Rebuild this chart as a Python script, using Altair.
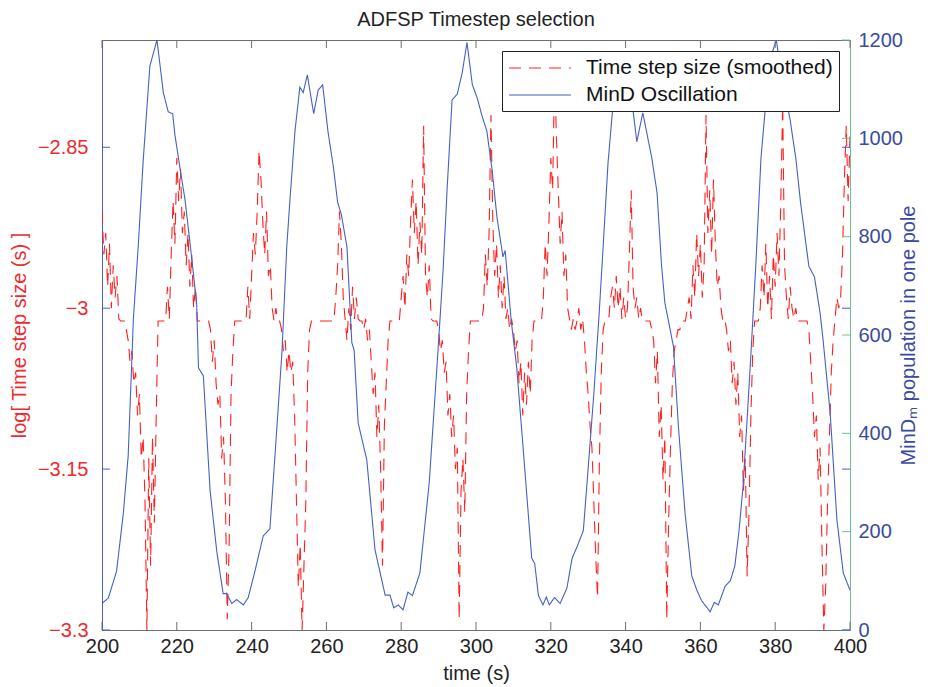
import altair as alt
import pandas as pd

TITLE = "ADFSP Timestep selection"
RED_NAME = "Time step size (smoothed)"
BLUE_NAME = "MinD Oscillation"
X_TITLE = "time (s)"
LEFT_TITLE = "log[ Time step size (s) ]"
RIGHT_TITLE = "MinDₘ population in one pole"

x_ticks = [200, 220, 240, 260, 280, 300, 320, 340, 360, 380, 400]
left_ticks = [-3.3, -3.15, -3.0, -2.85]
right_ticks = [0, 200, 400, 600, 800, 1000, 1200]

# smoothed log time step, sampled every 0.5 s from t = 200
red_start = 200.0
red_step = 0.5
red_vals = [
    -2.91, -2.95, -2.93, -2.98, -2.94, -3.00, -2.96, -2.99, -2.97, -3.01,
    -3.012, -3.012, -3.012, -3.02, -3.03, -3.05, -3.04, -3.07, -3.06, -3.10,
    -3.08, -3.14, -3.12, -3.18, -3.30, -3.14, -3.24, -3.12, -3.20, -3.10,
    -3.012, -3.012, -3.012, -3.012, -3.012, -2.98, -3.01, -2.95, -2.90, -2.94,
    -2.86, -2.90, -2.87, -2.93, -2.91, -2.96, -2.93, -2.98, -2.95, -3.00,
    -2.98, -3.012, -3.012, -3.012, -3.012, -3.012, -3.012, -3.012, -3.02, -3.05,
    -3.03, -3.07, -3.09, -3.08, -3.14, -3.12, -3.18, -3.29, -3.22, -3.08,
    -3.04, -3.012, -3.012, -3.012, -3.012, -3.012, -3.012, -3.012, -2.98, -3.01,
    -2.97, -2.93, -2.95, -2.91, -2.853, -2.88, -2.92, -2.95, -2.91, -2.97,
    -2.96, -3.00, -3.012, -3.00, -3.012, -3.012, -3.02, -3.04, -3.03, -3.06,
    -3.04, -3.06, -3.05, -3.10, -3.18, -3.26, -3.22, -3.30, -3.24, -3.18,
    -3.06, -3.02, -3.012, -3.012, -3.012, -3.012, -3.012, -3.012, -3.012, -3.012,
    -3.012, -3.012, -3.012, -3.012, -3.012, -2.99, -2.96, -2.91, -2.94, -2.99,
    -3.01, -3.03, -3.00, -3.02, -2.98, -3.01, -2.99, -3.01, -3.012, -3.012,
    -3.02, -3.01, -3.03, -3.02, -3.05, -3.08, -3.06, -3.12, -3.09, -3.15,
    -3.24, -3.11, -3.07, -3.03, -3.012, -3.012, -3.012, -3.012, -3.012, -3.012,
    -2.99, -2.97, -3.00, -2.95, -2.97, -2.92, -2.88, -2.93, -2.90, -2.96,
    -2.92, -2.95, -2.83, -2.97, -2.99, -2.96, -3.01, -3.012, -3.012, -3.012,
    -3.02, -3.04, -3.03, -3.06, -3.05, -3.10, -3.08, -3.12, -3.10, -3.15,
    -3.13, -3.29, -3.17, -3.14, -3.19, -3.08, -3.04, -3.012, -3.012, -3.012,
    -3.012, -3.012, -3.012, -3.012, -3.00, -2.95, -2.98, -2.93, -2.82, -2.92,
    -2.97, -2.94, -2.99, -2.96, -3.00, -2.97, -3.01, -3.00, -3.02, -3.01,
    -3.02, -3.04, -3.03, -3.07, -3.05, -3.10, -3.06, -3.09, -3.05, -3.08,
    -3.03, -3.012, -3.012, -3.012, -3.012, -3.012, -2.99, -2.94, -2.97, -2.92,
    -2.86, -2.89, -2.78, -2.84, -2.89, -2.94, -2.91, -2.97, -2.95, -3.00,
    -3.01, -3.02, -3.01, -3.02, -3.012, -3.00, -3.02, -3.01, -3.03, -3.06,
    -3.08, -3.11, -3.13, -3.18, -3.23, -3.27, -3.14, -3.06, -3.02, -3.012,
    -3.012, -3.01, -2.99, -2.98, -3.00, -2.97, -3.00, -2.98, -3.01, -2.99,
    -3.01, -3.00, -2.95, -2.89, -2.98, -3.00, -2.99, -3.01, -3.00, -3.012,
    -3.012, -3.012, -3.012, -3.012, -3.02, -3.03, -3.07, -3.04, -3.12, -3.09,
    -3.16, -3.12, -3.29, -3.20, -3.13, -3.07, -3.04, -3.03, -3.02, -3.02,
    -3.012, -3.012, -3.012, -3.00, -2.99, -3.01, -2.96, -2.99, -2.93, -2.97,
    -2.94, -2.99, -2.96, -2.82, -2.93, -2.89, -2.95, -2.88, -2.94, -2.98,
    -2.97, -3.00, -3.012, -3.01, -3.02, -3.04, -3.03, -3.07, -3.05, -3.09,
    -3.06, -3.12, -3.10, -3.17, -3.14, -3.25, -3.19, -3.10, -3.04, -3.012,
    -3.012, -3.012, -3.00, -2.96, -2.99, -2.94, -3.00, -2.97, -3.01, -2.95,
    -2.98, -2.93, -2.97, -2.90, -2.81, -2.96, -2.99, -3.01, -2.98, -3.00,
    -3.01, -3.00, -3.012, -3.012, -3.012, -3.012, -3.012, -3.012, -3.02, -3.05,
    -3.08, -3.12, -3.10, -3.16, -3.13, -3.22, -3.30, -3.26, -3.18, -3.12,
    -3.06, -3.03, -3.01, -2.99, -3.00, -2.99, -2.95, -2.88, -2.83, -2.90,
    -2.84,
]

# MinD population in one pole
blue_t = [
    200, 201.7, 203.9, 205.7, 207, 208.4, 209.7, 211, 212.8, 214.7,
    216.4, 217.7, 218.9, 219.5, 220.9, 222.2, 223.5, 225.3, 225.8, 227.1,
    228.9, 230.7, 232.4, 233.3, 234.7, 236, 237.8, 239.1, 240.9, 243.1,
    244.9, 246.3, 248.1, 249.4, 250.3, 251.6, 252.9, 253.8, 254.9, 256.6,
    257.8, 259, 260.4, 261.9, 263, 264, 265.5, 266.8, 267.4, 268.5,
    270.8, 273, 275.7, 277, 278, 279.2, 280.5, 281.8, 283, 285,
    287.5, 289.8, 291.2, 292.3, 293.6, 295, 296.3, 297.6, 299, 300.4,
    301.6, 302.9, 304.3, 305.6, 307.2, 307.8, 309.4, 310.9, 312.6, 314.9,
    315.7, 316.7, 317.9, 318.8, 319.6, 321, 322.5, 324.3, 325.7, 327,
    328.7, 330, 331.5, 332.9, 334, 335.3, 336.6, 338, 339.5, 341,
    342.1, 343, 344.6, 347, 348.4, 349.6, 350.5, 351.3, 352.8, 354.1,
    355.9, 357.7, 359, 360.3, 362.6, 363.7, 364.8, 366.6, 368, 369.2,
    370.3, 371.4, 372.5, 373.5, 374.8, 376.2, 377.8, 379, 380.3, 381.5,
    382.5, 384, 385.5, 386.8, 389, 390.5, 392, 392.8, 394.7, 396.5,
    398.2, 400,
]
blue_v = [
    54, 65, 120, 237, 354, 634, 782, 953, 1147, 1200,
    1093, 1054, 1050, 1007, 937, 875, 789, 665, 533, 517,
    284, 159, 74, 74, 54, 62, 51, 66, 120, 191,
    206, 360, 563, 779, 880, 1015, 1104, 1093, 1129, 1050,
    1098, 1109, 1015, 940, 870, 845, 779, 584, 570, 421,
    346, 163, 71, 71, 45, 51, 41, 77, 70, 116,
    300, 563, 732, 900, 1078, 1090, 1133, 1195, 1110, 1080,
    1046, 1015, 936, 840, 759, 772, 630, 533, 370, 146,
    135, 70, 51, 67, 51, 66, 54, 85, 146, 169,
    202, 330, 480, 640, 780, 950, 1065, 1130, 1150, 1100,
    1050, 993, 1052, 960, 890, 743, 665, 635, 576, 416,
    237, 110, 82, 60, 37, 56, 51, 89, 100, 130,
    200, 291, 430, 560, 740, 960, 1100, 1170, 1200, 1140,
    1098, 1037, 960, 868, 740, 718, 645, 590, 441, 224,
    116, 81,
]

red_df = pd.DataFrame({
    "t": [red_start + red_step * i for i in range(len(red_vals))],
    "v": red_vals,
    "series": RED_NAME,
})
blue_df = pd.DataFrame({"t": blue_t, "v": blue_v, "series": BLUE_NAME})

W, H = 748, 590
FONT = "Liberation Sans"
RED = "#ff1f1f"
RED_TXT = "#ee2a2f"
BLUE_LINE = "#4561c2"
BLUE_TXT = "#3a4ba0"
GREEN = "#6cc28f"
GRAY = "#6e6e6e"
TICK = 8

xscale = alt.Scale(domain=[200, 400], nice=False, zero=False)
lscale = alt.Scale(domain=[-3.3, -2.75], nice=False, zero=False)
rscale = alt.Scale(domain=[0, 1200], nice=False, zero=False)

legend = alt.Legend(
    title=None, orient="top-right", offset=11, fillColor="white",
    strokeColor="#222222", padding=6, labelFontSize=21, labelFont=FONT,
    labelColor="#111111", symbolType="M-1,0H5.2", symbolSize=400,
    symbolStrokeWidth=1.2, symbolFillColor="transparent",
    rowPadding=6, labelOffset=56, labelLimit=400,
)
color = alt.Color("series:N", scale=alt.Scale(domain=[RED_NAME, BLUE_NAME], range=[RED, BLUE_LINE]), legend=legend)
dash = alt.StrokeDash("series:N", scale=alt.Scale(domain=[RED_NAME, BLUE_NAME], range=[[12, 8], [1, 0]]), legend=legend)

x_axis = alt.Axis(
    values=x_ticks, orient="bottom", tickSize=0, labelFontSize=20, labelFont=FONT,
    labelColor="#222222", labelPadding=6, labelFlush=False, domainColor=GRAY,
    title=X_TITLE, titleFontSize=20, titleFont=FONT, titleFontWeight="normal",
    titleColor="#222222", titlePadding=7, grid=False,
)
X = alt.X("t:Q", scale=xscale, axis=x_axis)

red = alt.Chart(red_df).mark_line(strokeWidth=1.1, clip=True).encode(
    x=X,
    y=alt.Y("v:Q", scale=lscale, axis=alt.Axis(
        orient="left", values=left_ticks, format=".2~f", tickSize=0,
        labelFontSize=20, labelFont=FONT, labelColor=RED_TXT, labelPadding=14,
        labelFlush=False, domainColor=BLUE_LINE, grid=False,
        title=LEFT_TITLE, titleFontSize=20, titleFont=FONT, titleFontWeight="normal",
        titleColor=RED_TXT, titlePadding=8,
    )),
    color=color,
    strokeDash=dash,
)

blue = alt.Chart(blue_df).mark_line(strokeWidth=1.1, clip=True).encode(
    x=X,
    y=alt.Y("v:Q", scale=rscale, axis=alt.Axis(
        orient="right", values=right_ticks, format="d", tickSize=0,
        labelFontSize=20, labelFont=FONT, labelColor=BLUE_TXT, labelPadding=8,
        labelFlush=False, domainColor=GREEN, grid=False,
        title=RIGHT_TITLE, titleFontSize=20, titleFont=FONT, titleFontWeight="normal",
        titleColor=BLUE_TXT, titleAngle=270, titlePadding=16,
    )),
    color=color,
    strokeDash=dash,
)

xt = pd.DataFrame({"t": x_ticks})
lt = pd.DataFrame({"v": left_ticks})
rt = pd.DataFrame({"v": right_ticks})

x_bot = alt.Chart(xt).mark_rule(color=GRAY, strokeWidth=1).encode(
    x=X, y=alt.value(H), y2=alt.value(H - TICK))
x_top = alt.Chart(xt).mark_rule(color=GRAY, strokeWidth=1).encode(
    x=X, y=alt.value(0), y2=alt.value(TICK))
l_left = alt.Chart(lt).mark_rule(color=BLUE_LINE, strokeWidth=1).encode(
    y=alt.Y("v:Q", scale=lscale, axis=None), x=alt.value(0), x2=alt.value(TICK))
l_right = alt.Chart(lt).mark_rule(color=BLUE_LINE, strokeWidth=1).encode(
    y=alt.Y("v:Q", scale=lscale, axis=None), x=alt.value(W - TICK), x2=alt.value(W))
r_right = alt.Chart(rt).mark_rule(color=GREEN, strokeWidth=1).encode(
    y=alt.Y("v:Q", scale=rscale, axis=None), x=alt.value(W - TICK), x2=alt.value(W))

chart = alt.layer(
    red, blue, x_bot, x_top, l_left, r_right, l_right
).resolve_scale(
    y="independent"
).properties(
    width=W, height=H,
    title=alt.TitleParams(TITLE, fontSize=20, font=FONT, fontWeight="normal", color="#222222", offset=0),
    autosize=alt.AutoSizeParams(type="none"),
    padding={"left": 94, "top": 32, "right": 72, "bottom": 56},
    background="white",
).configure(font=FONT).configure_view(stroke=GRAY, strokeWidth=1)

chart.save("out.html", embed_options={"renderer": "svg", "actions": False})
